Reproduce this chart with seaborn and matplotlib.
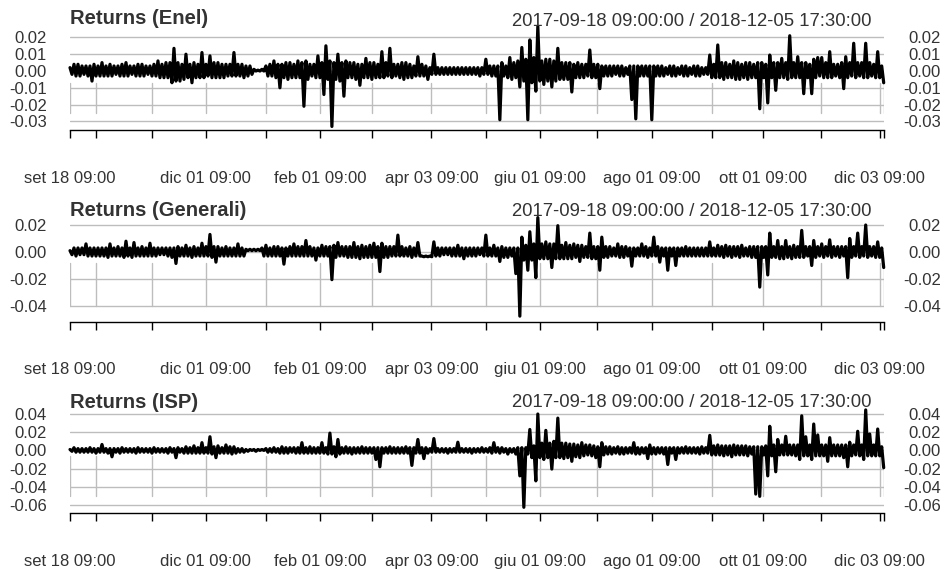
import numpy as np
import pandas as pd
import matplotlib
matplotlib.use("Agg")
import matplotlib.pyplot as plt
import seaborn as sns

# Returns, in thousandths (per mille).
# The time axis is split into 204 equal slots; for each slot the highest and the
# lowest return drawn in that slot (xts draws ~5600 half-hourly points).
enel_high = [
    2, 4, 4, 3, 3, 3, 4, 3, 5, 3,
    4, 3, 3, 4, 5, 3, 3, 4, 4, 3,
    3, 4, 6, 4, 5, 5, 13.5, 5, 4, 10,
    4, 5, 4, 11, 4, 9, 5, 5, 4, 4,
    4, 11, 4, 4, 3, 3, 1, 0.5, 1, 3,
    4, 6, 4, 4, 5, 5, 4, 6, 5, 6,
    4, 4, 9, 5, 15, 6, 5, 10, 5, 6,
    5, 5, 4, 4, 7.5, 5, 5, 4, 11.5, 5,
    13.5, 4, 4, 5, 5, 4, 3, 8.5, 4, 3,
    2, 10, 2, 2, 2, 2, 2, 2, 2, 2,
    2, 2, 2, 2, 7, 3, 3, 3, 5, 3,
    8, 5, 6, 14, 7, 18.5, 8, 26.5, 6, 7,
    7, 6, 13.5, 5, 5, 5, 4, 5, 4, 4,
    12.5, 4, 4, 3, 3, 3, 3, 3, 3, 2,
    3, 3, 3, 3, 3, 3, 3, 3, 3, 2,
    3, 3, 2, 3, 3, 2, 3, 3, 2, 2,
    9.5, 4, 15.5, 5, 5, 4, 6, 5, 4, 5,
    5, 4, 5, 5, 4, 9.5, 5, 5, 7.5, 5,
    21, 5, 8.5, 5, 5, 4, 7, 8, 8, 5,
    11.5, 4, 4, 5, 8.5, 5, 16.5, 5, 5, 16.5,
    5, 4, 11.5, 3,
]
enel_low = [
    -2, -3, -3, -2, -3, -6, -3, -3, -3, -3,
    -3, -2, -3, -3, -3, -2, -3, -3, -3, -2,
    -3, -3, -4, -4, -4, -7, -6, -6, -5, -4,
    -7, -4, -4, -4, -3, -4, -4, -4, -4, -3,
    -3, -3, -3, -4, -3, -2, 0, 0, 0, -3,
    -3, -4, -10, -4, -5, -4, -4, -4, -21, -5,
    -3, -4, -4, -14, -5, -33, -5, -6, -15, -4,
    -4, -5, -8.5, -4, -4, -5, -4, -4, -4, -3,
    -4, -3, -4, -5, -4, -4, -3, -3, -3, -5,
    -2, -2, -2, -2, -2, -2, -2, -2, -2, -2,
    -2, -2, -3, -2, -2, -3, -3, -29, -3, -4,
    -5, -4, -9.5, -6, -29, -7, -12, -6, -8, -6,
    -9.5, -6, -5, -5, -5, -12.5, -4, -4, -4, -3,
    -4, -4, -10.5, -3, -3, -3, -2, -3, -3, -2,
    -17, -28.5, -3, -3, -3, -29, -3, -3, -3, -2,
    -3, -3, -2, -3, -3, -2, -3, -3, -2, -2,
    -4, -4, -4, -5, -4, -4, -5, -5, -4, -5,
    -4, -4, -22.5, -4, -19, -4, -11.5, -4, -4, -5,
    -4, -4, -4, -13.5, -4, -13.5, -4, -3, -4, -4,
    -4, -3, -4, -10.5, -4, -3, -4, -3, -4, -4,
    -3, -4, -4, -7,
]
generali_high = [
    1, 3, 3, 3, 6, 3, 3, 3, 3, 3,
    6, 3, 4, 3, 8, 3, 7, 3, 4, 3,
    6.5, 3, 3, 3, 3, 3, 3, 4, 3, 5,
    3, 4, 3, 6.5, 4, 13, 4, 4, 3, 4,
    3, 3, 6, 3, 2, 2, 2, 2, 3, 5,
    3, 4, 4, 3, 3, 4, 6, 4, 4, 8.5,
    4, 3, 3, 5, 4, 4, 5, 7, 4, 4,
    4, 7, 4, 5, 4, 5, 6.5, 4, 6.5, 4,
    4, 4, 12.5, 4, 3, 4, 3, 7, -3, -3,
    -3, 7.5, 3, 3, 3, 3, 3, 5, 3, 3,
    3, 3, 3, 3, 12.5, 3, 5, 3, 4, 3,
    3, 3, 3, 11, 5, 15, 6, 25.5, 6, 7.5,
    6, 6, 19.5, 5, 7, 5, 6, 5, 5, 4,
    14, 4, 4, 11, 4, 4, 3, 6, 4, 4,
    3, 3, 3, 6, 4, 3, 11, 4, 3, 3,
    3, 3, 3, 3, 4, 3, 3, 3, 3, 3,
    7.5, 3, 5, 4, 5, 4, 4, 4, 5, 3,
    4, 4, 4, 4, 4, 14, 4, 8.5, 4, 8.5,
    4, 5, 4, 16, 4, 4, 8.5, 4, 6, 4,
    9, 4, 4, 4, 4, 10, 4, 14, 4, 20,
    4, 4, 7.5, 3,
]
generali_low = [
    -2, -3, -2, -2, -3, -3, -3, -3, -3, -4,
    -3, -3, -3, -4, -3, -4, -3, -3, -3, -3,
    -3, -3, -2, -2, -3, -4, -8.5, -3, -3, -3,
    -4, -3, -3, -3, -3, -4, -7.5, -3, -3, -3,
    -3, -3, -3, -3, 1, 1, 1, 1, -3, -3,
    -3, -3, -3, -9, -3, -3, -3, -3, -3, -3,
    -3, -6, -3, -3, -3, -20.5, -4, -3, -3, -4,
    -4, -4, -5, -4, -4, -4, -4, -14.5, -4, -4,
    -3, -3, -3, -3, -3, -4, -3, -3, -3.5, -3.5,
    -3.5, -3, -3, -2, -2, -3, -3, -3, -5, -3,
    -3, -3, -2, -3, -3, -3, -3, -7, -4, -4,
    -3, -16, -47.5, -6, -13.5, -6, -19, -5, -5, -5,
    -11.5, -5, -5, -5, -5, -5, -4, -7, -4, -4,
    -5, -5, -13.5, -4, -4, -3, -3, -4, -4, -3,
    -10.5, -3, -3, -3, -4, -3, -3, -7.5, -3, -13.5,
    -3, -10, -3, -3, -3, -3, -3, -3, -3, -3,
    -3, -3, -3, -4, -3, -4, -3, -4, -3, -3,
    -4, -4, -26, -4, -17, -4, -4, -5, -5, -4,
    -5, -4, -4, -4, -3, -10, -4, -3, -4, -3,
    -4, -3, -4, -3, -19, -4, -3, -4, -3, -4,
    -3, -4, -4, -11.5,
]
isp_high = [
    1, 3, 2, 2, 2, 3, 2, 2, 6.5, 2,
    2, 2, 2, 3, 2, 2, 2, 3, 2, 2,
    2, 3, 2, 2, 2, 3, 2, 3, 2, 4,
    3, 5, 3, 8.5, 3, 15, 4, 5, 3, 6,
    4, 4, 2, 2, 1, 1, 1, 1, 1, 2,
    2, 3, 2, 4, 3, 3, 3, 3, 8.5, 3,
    4, 3, 3, 8.5, 3, 19, 4, 12, 3, 4,
    3, 3, 3, 4, 3, 3, 3, 3, 3, 3,
    4, 3, 3, 3, 4, 3, 3, 12, 3, 3,
    2, 13, 2, 2, 2, 2, 2, 9, 2, 2,
    2, 2, 2, 3, 2, 3, 8.5, 3, 3, 2,
    2, 2, 3, 3, 3, 23, 5, 40, 8, 22,
    8, 10, 35.5, 8, 8, 7, 7, 6, 8.5, 6,
    6, 5, 4, 8.5, 4, 4, 3, 4, 3, 3,
    3, 8.5, 3, 3, 3, 6, 3, 3, 3, 3,
    3, 3, 3, 3, 4, 3, 3, 3, 4, 3,
    16.5, 5, 6, 5, 5, 5, 6, 5, 5, 5,
    4, 4, 4, 4, 5, 26.5, 6, 12, 6, 15.5,
    6, 6, 6, 38, 15, 6, 29, 17, 6, 6,
    14, 6, 6, 6, 6, 9, 6, 21, 6, 44.5,
    18, 6, 23.5, 4,
]
isp_low = [
    -1, -2, -2, -2, -2, -2, -3, -2, -2, -3,
    -7, -2, -3, -2, -2, -2, -3, -2, -2, -2,
    -3, -2, -2, -2, -3, -2, -8, -2, -3, -3,
    -3, -3, -3, -3, -3, -4, -8, -3, -3, -3,
    -4, -3, -2, -2, -1, 0, -1, 0, 0, -2,
    -2, -2, -3, -3, -3, -2, -3, -3, -3, -3,
    -3, -3, -3, -3, -4, -4, -7, -4, -3, -3,
    -4, -3, -3, -3, -3, -3, -10, -18, -3, -3,
    -3, -3, -3, -3, -3, -16.5, -3, -3, -9, -3,
    -2, -2, -2, -2, -3, -2, -2, -2, -2, -2,
    -3, -2, -2, -2, -2, -3, -2, -3, -2, -4,
    -2, -4, -28, -62.5, -4, -8, -33.5, -8, -10, -8,
    -20.5, -8, -8, -9, -8, -12, -7, -8, -6, -5,
    -6, -8, -18, -5, -4, -4, -3, -4, -4, -3,
    -3, -4, -4, -3, -9, -4, -4, -3, -4, -15.5,
    -3, -10, -3, -3, -3, -3, -3, -4, -3, -3,
    -5, -5, -5, -6, -5, -7, -5, -5, -5, -6,
    -4, -48, -50.5, -5, -28, -6, -23.5, -5, -5, -5,
    -5, -6, -10, -6, -6, -10, -6, -6, -6, -12,
    -6, -6, -6, -8, -18, -6, -5, -6, -10, -6,
    -6, -6, -6, -19,
]

series = [(enel_high, enel_low), (generali_high, generali_low), (isp_high, isp_low)]
panel_titles = ["Returns (Enel)", "Returns (Generali)", "Returns (ISP)"]
date_range = "2017-09-18 09:00:00 / 2018-12-05 17:30:00"
y_ticks = [
    [0.02, 0.01, 0.00, -0.01, -0.02, -0.03],
    [0.02, 0.00, -0.02, -0.04],
    [0.04, 0.02, 0.00, -0.02, -0.04, -0.06],
]
# x positions are trading days since 2017-09-18 (gaps removed, as in xts)
TOTAL_DAYS = 317.5
tick_days = [0, 10, 32, 53, 76.5, 97.5, 118, 141, 162.5, 183.5, 205.5, 227, 250.5,
             270.5, 293, 316, 317.5]
tick_labels = ["set 18 09:00", "", "", "dic 01 09:00", "", "feb 01 09:00", "",
               "apr 03 09:00", "", "giu 01 09:00", "", "ago 01 09:00", "",
               "ott 01 09:00", "", "dic 03 09:00", ""]

sns.set_theme(style="white")
plt.rcParams["font.family"] = ["Liberation Sans", "DejaVu Sans"]
plt.rcParams["axes.unicode_minus"] = False

W, H = 944, 569
PT = 0.72  # points per pixel at 100 dpi
fig = plt.figure(figsize=(W / 100, H / 100), dpi=100)
fig.patch.set_facecolor("white")

LEFT, RIGHT = 70, 883.7
TEXT = "#333333"
GRID = "#bdbdbd"
layouts = [
    dict(top=25, bottom=130, zero=71, scale=1680, vtop=83, vbot=113, tb=24, db=26),
    dict(top=215, bottom=321.7, zero=252, scale=1350, vtop=263, vbot=306, tb=216, db=216),
    dict(top=404, bottom=513.3, zero=450.4, scale=910, vtop=456, vbot=496, tb=408, db=407),
]

for (hi, lo), title, yt, L in zip(series, panel_titles, y_ticks, layouts):
    hgt = L["bottom"] - L["top"]
    ax = fig.add_axes([LEFT / W, 1 - L["bottom"] / H, (RIGHT - LEFT) / W, hgt / H])
    ret = np.column_stack([np.asarray(hi, float), np.asarray(lo, float)]).ravel() / 1000.0
    df = pd.DataFrame({"day": np.linspace(0, TOTAL_DAYS, len(ret)), "ret": ret})
    ax.set_facecolor("white")
    ax.set_xlim(0, TOTAL_DAYS)
    ax.set_ylim(-(L["bottom"] - L["zero"]) / L["scale"], (L["zero"] - L["top"]) / L["scale"])

    # horizontal grid
    for v in yt:
        ax.axhline(v, color=GRID, lw=1.0, zorder=0.5)
    # vertical grid segments (as drawn by xts)
    f0 = (L["bottom"] - L["vbot"]) / hgt
    f1 = (L["bottom"] - L["vtop"]) / hgt
    for d in tick_days:
        ax.axvline(d, ymin=f0, ymax=f1, color=GRID, lw=1.0, zorder=0.5)

    sns.lineplot(data=df, x="day", y="ret", ax=ax, color="black", lw=2.3,
                 zorder=3, clip_on=False)

    for s in ["top", "left", "right"]:
        ax.spines[s].set_visible(False)
    ax.spines["bottom"].set_color("black")
    ax.spines["bottom"].set_linewidth(1.0)
    ax.set_xlabel("")
    ax.set_ylabel("")

    ax.set_xticks(tick_days)
    ax.set_xticklabels(tick_labels)
    ax.tick_params(axis="x", bottom=True, direction="out", length=8 * PT, width=1.0,
                   color="black", pad=44.7 * PT, labelsize=12, labelcolor=TEXT)
    for t in ax.get_xticklabels():
        t.set_verticalalignment("baseline")

    ax.set_yticks(yt)
    ax.set_yticklabels([f"{v:.2f}" for v in yt])
    ax.tick_params(axis="y", left=False, length=0, pad=23 * PT, labelsize=12,
                   labelcolor=TEXT)

    ax2 = ax.twinx()
    ax2.set_ylim(ax.get_ylim())
    ax2.set_yticks(yt)
    ax2.set_yticklabels([f"{v:.2f}" for v in yt])
    ax2.tick_params(axis="y", right=False, length=0, pad=57 * PT, labelsize=12,
                    labelcolor=TEXT)
    for t in ax2.get_yticklabels():
        t.set_horizontalalignment("right")
    for s in ax2.spines.values():
        s.set_visible(False)
    ax2.grid(False)
    ax.grid(False)

    fig.text(LEFT / W, 1 - L["tb"] / H, title, fontsize=14.6, fontweight="bold",
             color=TEXT, ha="left", va="baseline")
    fig.text(871 / W, 1 - L["db"] / H, date_range, fontsize=13.3, color=TEXT,
             ha="right", va="baseline")

fig.savefig("out.png", dpi=100, facecolor="white")
